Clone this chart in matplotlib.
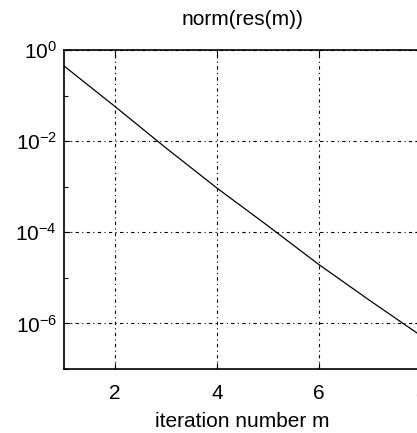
import matplotlib
matplotlib.use("Agg")
import matplotlib.pyplot as plt
import numpy as np

# iteration number and log10 of the residual norm
iterations = [1, 2, 3, 4, 5, 6, 7, 8]
log_res = [-0.35, -1.24, -2.15, -3.03, -3.86, -4.71, -5.5, -6.27]
x_ticks = [2, 4, 6, 8]
y_major = [1e0, 1e-2, 1e-4, 1e-6]
y_minor = [1e-1, 1e-3, 1e-5, 1e-7]
y_labels = [r"$10^{0}$", r"$10^{-2}$", r"$10^{-4}$", r"$10^{-6}$"]

plt.rcParams["font.family"] = ["Liberation Sans", "DejaVu Sans"]
plt.rcParams["mathtext.fontset"] = "custom"
plt.rcParams["mathtext.rm"] = "Liberation Sans"
plt.rcParams["mathtext.it"] = "Liberation Sans"

fig = plt.figure(figsize=(4.17, 4.33), dpi=100)
ax = fig.add_axes([64 / 417, 1 - 369 / 433, 357 / 417, 319 / 433])

res = 10.0 ** np.array(log_res)
ax.semilogy(iterations, res, color="black", linewidth=0.9)

ax.set_xlim(1, 8)
ax.set_ylim(1e-7, 1e0)
ax.set_xticks(x_ticks)
ax.minorticks_off()
ax.set_yticks(y_major)
ax.set_yticklabels(y_labels)
ax.set_yticks(y_minor, minor=True)
ax.set_yticklabels([], minor=True)

grid_style = dict(color="black", linewidth=0.8, linestyle=(0, (3, 3, 1, 3)))
ax.grid(True, which="major", **grid_style)

ax.tick_params(which="both", direction="in", top=True, right=True,
               labelsize=15, length=4, width=0.8)
ax.tick_params(axis="x", pad=11)
ax.tick_params(axis="y", pad=5)
ax.tick_params(which="minor", length=3)
for spine in ax.spines.values():
    spine.set_linewidth(1.2)

ax.set_title("norm(res(m))", fontsize=15, pad=18)
ax.set_xlabel("iteration number m", fontsize=15, labelpad=6)

fig.savefig("out.png", dpi=100)
